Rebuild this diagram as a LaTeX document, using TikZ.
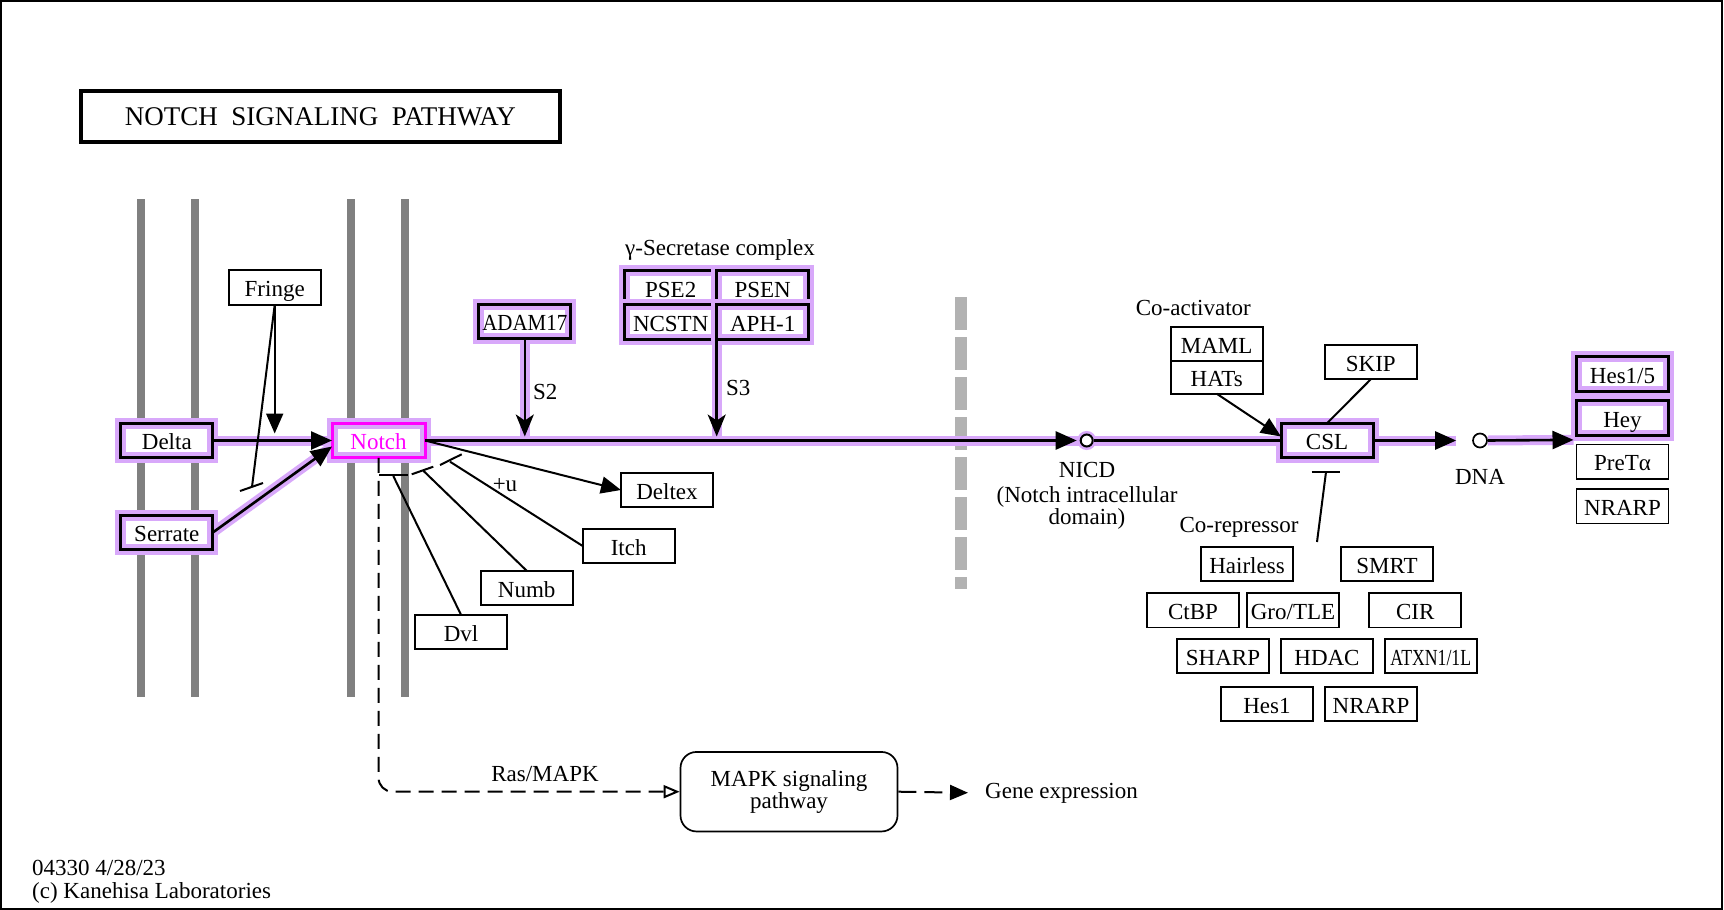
\documentclass[tikz,border=0pt]{standalone}
\usepackage{fontspec}
\setmainfont{Liberation Serif}
\usepackage{graphicx}
\usetikzlibrary{arrows.meta, calc}
\pgfdeclarelayer{background}
\pgfsetlayers{background,main}
\definecolor{hilite}{RGB}{216,168,250}
\definecolor{membgray}{RGB}{128,128,128}
\definecolor{notchmag}{RGB}{255,0,255}

\begin{document}
\begin{tikzpicture}[x=1pt, y=-1pt,
    lbl/.style={font=\fontsize{23}{22}\selectfont, inner sep=0pt},
    gene/.style={draw, line width=1.7pt, fill=white, minimum width=92pt, minimum height=34.5pt,
      inner sep=0pt, outer sep=0pt, text height=20.5pt, text depth=2pt, font=\fontsize{23}{24}\selectfont},
    hlgene/.style={gene, draw=hilite, double=black, double distance=3pt, line width=4pt},
    hlline/.style={hilite, line width=10pt},
    act/.style={line width=2pt, -{Triangle[length=20pt, width=17pt]}},
    hlact/.style={line width=2.6pt, -{Triangle[length=21pt, width=18pt]}},
    cleave/.style={line width=2.6pt, -{Stealth[length=22pt, width=18pt, inset=6pt]}},
    inh/.style={line width=2pt},
    dashy/.style={line width=2pt, dash pattern=on 15pt off 8pt}]
  \useasboundingbox (0,0) rectangle (1724,910);
  \draw[line width=2pt] (1,1) rectangle (1722,909);
  % title
  \node[draw, line width=4pt, minimum width=479pt, minimum height=51pt,
    font=\fontsize{27}{30}\selectfont] (title) at (320.5,116.5) {NOTCH~~SIGNALING~~PATHWAY};
  % ligands and receptor
  \node[gene] (fringe) at (274.7,287.5) {Fringe};
  \node[hlgene] (delta) at (166.8,440.5) {Delta};
  \node[hlgene] (serrate) at (166.8,532.5) {Serrate};
  \node[hlgene, double=notchmag, text=notchmag, minimum width=93pt] (notch) at (378.5,440.5) {Notch};
  % proteases
  \node[hlgene] (adam) at (524.8,321.7) {\scalebox{0.91}[1]{ADAM17}};
  \node[hlgene] (pse) at (670.7,288) {PSE2};
  \node[hlgene] (psen) at (762.7,288) {PSEN};
  \node[hlgene] (ncstn) at (670.7,322) {NCSTN};
  \node[hlgene] (aph) at (762.7,322) {APH-1};
  \node[lbl] (gsec) at (720,250) {γ-Secretase complex};
  % modulators under the membrane
  \node[gene] (deltex) at (667,490) {Deltex};
  \node[gene] (itch) at (628.7,546) {Itch};
  \node[gene] (numb) at (526.7,588) {Numb};
  \node[gene] (dvl) at (461,632) {Dvl};
  \node[lbl] (plusu) at (505,485) {+u};
  % nucleus
  \node[circle, draw, line width=2pt, fill=white, minimum size=12pt, inner sep=0pt,
    preaction={draw=hilite, line width=7pt}] (nicd) at (1086.7,440.5) {};
  \node[lbl] (nicdlbl) at (1087,470) {NICD};
  \node[lbl, align=center] (nicddesc) at (1087,508) {(Notch intracellular\\domain)};
  \node[lbl] (coact) at (1193.3,308.3) {Co-activator};
  \node[gene] (maml) at (1216.7,344) {MAML};
  \node[gene, minimum height=32.5pt] (hats) at (1216.7,377.5) {HATs};
  \node[gene] (skip) at (1370.8,362) {SKIP};
  \node[hlgene] (csl) at (1327,440.5) {CSL};
  \node[circle, draw, line width=1.7pt, fill=white, minimum size=14pt, inner sep=0pt] (dna) at (1480,440.5) {};
  \node[lbl] (dnalbl) at (1480,477) {DNA};
  % co-repressors
  \node[lbl] (corep) at (1239,527) {Co-repressor};
  \node[gene] (hairless) at (1247,564) {Hairless};
  \node[gene] (smrt) at (1387,564) {SMRT};
  \node[gene] (ctbp) at (1193,610.3) {CtBP};
  \node[gene] (gro) at (1293,610.3) {Gro/TLE};
  \node[gene] (cir) at (1415.3,610.3) {CIR};
  \node[gene] (sharp) at (1223,656) {SHARP};
  \node[gene] (hdac) at (1327,656) {HDAC};
  \node[gene] (atxn) at (1430.8,656) {\scalebox{0.77}[1]{ATXN1/1L}};
  \node[gene] (hesa) at (1267,704) {Hes1};
  \node[gene] (nrarpa) at (1371,704) {NRARP};
  % target genes
  \node[hlgene] (hes) at (1622.5,374) {Hes1/5};
  \node[hlgene] (hey) at (1622.5,418) {Hey};
  \node[gene] (pret) at (1622.5,461.7) {PreTα};
  \node[gene] (nrarpb) at (1622.5,506.3) {NRARP};
  % MAPK branch
  \node[draw, line width=1.7pt, fill=white, rounded corners=16pt, minimum width=217pt, minimum height=79.5pt,
    align=center, font=\fontsize{23}{22}\selectfont] (mapk) at (789,791.7) {MAPK signaling\\pathway};
  \node[lbl] (ras) at (545,774) {Ras/MAPK};
  \node[lbl, anchor=west] (geneexp) at (985,793) {Gene expression};
  % footer
  \node[lbl, anchor=west] (mapno) at (32,868) {04330 4/28/23};
  \node[lbl, anchor=west] (copy) at (32,892.5) {(c) Kanehisa Laboratories};

  \coordinate (s2pt) at (adam.south |- notch.east);
  \coordinate (s3pt) at (ncstn.south east |- notch.east);
  \coordinate (hesin) at ($(hey.south west)!0.5!(pret.north west)$);
  \coordinate (frarr) at (fringe.south |- delta.east);
  \coordinate (frinh) at (252,487);
  \coordinate (itchend) at (450,461.7);
  \coordinate (numbend) at (423.3,470.7);
  \coordinate (dvlend) at (393.3,476);
  \coordinate (crtop) at (1326,472);
  \coordinate (crbot) at (1317,542);

  \begin{pgfonlayer}{background}
    % membranes
    \foreach \x in {140.7, 195, 350.7, 405}
      \draw[membgray, line width=8pt] (\x,199) -- (\x,697);
    % nuclear envelope
    \draw[black!30, line width=12pt, dash pattern=on 33pt off 7pt] (961,297) -- (961,589);
    % highlight under the activated route
    \draw[hlline] (delta.east) -- (notch.west);
    \draw[hlline] (serrate.east) -- ($(notch.west)+(0,6)$);
    \draw[hlline] (notch.east) -- (nicd);
    \draw[hlline] (adam.south) -- (s2pt);
    \draw[hlline] (ncstn.south east) -- (s3pt);
    \draw[hlline] (nicd) -- (csl.west);
    \draw[hlline, shorten >=16pt] (csl.east) -- (dna.west);
    \draw[hlline, shorten >=3pt] (dna.east) -- (hesin);
  \end{pgfonlayer}

  % activated route
  \draw[hlact] (delta.east) -- (notch.west);
  \draw[hlact] (serrate.east) -- ($(notch.west)+(0,6)$);
  \draw[hlact, shorten >=3pt] (notch.east) -- (nicd.west);
  \draw[cleave, shorten >=4pt] (adam.south) -- (s2pt);
  \draw[cleave, shorten >=4pt] (ncstn.south east) -- (s3pt);
  \node[lbl, anchor=west] (s2) at (533,392) {S2};
  \node[lbl, anchor=west] (s3) at (726,388) {S3};
  \draw[line width=2.6pt] (nicd.east) -- (csl.west);
  \draw[hlact, shorten >=16pt] (csl.east) -- (dna.west);
  \draw[hlact, shorten >=3pt] (dna.east) -- (hesin);
  % Fringe
  \draw[act, shorten >=7pt] (fringe.south) -- (frarr);
  \draw[inh] (fringe.south) -- (frinh);
  \draw[inh] (240,491) -- (263,483);
  % Deltex and inhibitors of Notch
  \draw[act] (notch.east) -- (deltex.west);
  \draw[inh] (itch.west) -- (itchend);
  \draw[inh] (440,465) -- (461.7,454.3);
  \draw[inh] (numb.north) -- (numbend);
  \draw[inh] (411.7,474.3) -- (433.3,466.7);
  \draw[inh] (dvl.north) -- (dvlend);
  \draw[inh] (379.3,475) -- (408.3,475);
  % co-activator, SKIP, co-repressor
  \draw[act] (hats.south) -- ([yshift=4pt]csl.west);
  \draw[inh] (skip.south) -- (csl.north);
  \draw[inh] (crbot) -- (crtop);
  \draw[inh] (1311.7,471.7) -- (1340,471.7);
  % MAPK branch
  \draw[dashy, rounded corners=14pt, -{Triangle[open, length=16pt, width=13pt]}]
    (notch.south) -- (notch.south |- mapk.west) -- (mapk.west);
  \draw[line width=2pt, dash pattern=on 18pt off 8pt, shorten >=17pt, -{Triangle[length=18pt, width=15pt]}]
    (mapk.east) -- (geneexp.west);
\end{tikzpicture}
\end{document}
